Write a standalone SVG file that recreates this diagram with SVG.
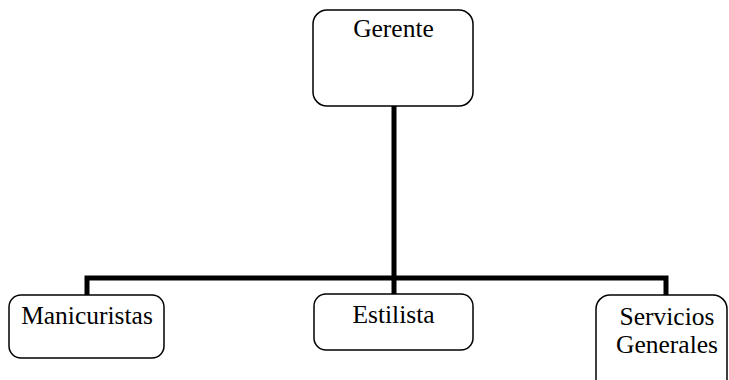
<svg xmlns="http://www.w3.org/2000/svg" width="729" height="380" viewBox="0 0 729 380">
  <style>
    .box { fill: #ffffff; stroke: #000000; stroke-width: 1.5; }
    .link { fill: none; stroke: #000000; stroke-width: 5; stroke-linejoin: miter; }
    .label { font-family: "Liberation Serif", "Times New Roman", serif; font-size: 25.5px; fill: #000000; text-anchor: middle; }
  </style>
  <rect width="729" height="380" fill="#ffffff"/>

  <g id="connectors">
    <path class="link" d="M394 106 V294"/>
    <path class="link" d="M87 295 V278 H666 V295"/>
  </g>

  <g id="gerente">
    <rect class="box" x="313" y="10" width="160" height="96" rx="14"/>
    <text class="label" x="393.5" y="37">Gerente</text>
  </g>

  <g id="manicuristas">
    <rect class="box" x="9" y="295" width="155" height="63" rx="12"/>
    <text class="label" x="87" y="324">Manicuristas</text>
  </g>

  <g id="estilista">
    <rect class="box" x="314" y="294" width="159" height="56" rx="12"/>
    <text class="label" x="393.5" y="323">Estilista</text>
  </g>

  <g id="servicios-generales">
    <rect class="box" x="596" y="295" width="131" height="100" rx="14"/>
    <text class="label" x="667" y="325">Servicios</text>
    <text class="label" x="667" y="353">Generales</text>
  </g>
</svg>
